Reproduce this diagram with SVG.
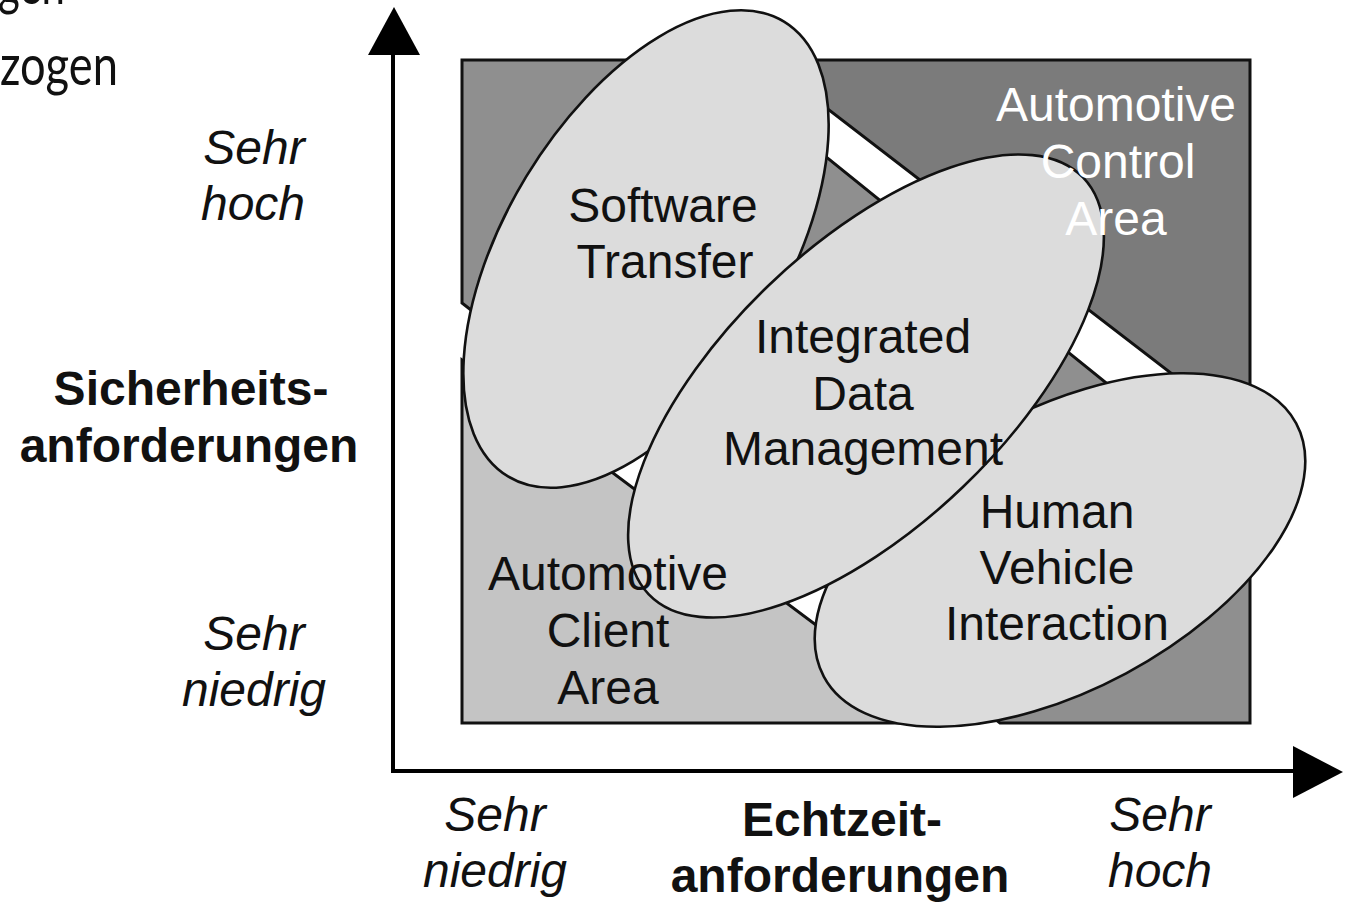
<svg xmlns="http://www.w3.org/2000/svg" width="1347" height="902" viewBox="0 0 1347 902">
<style>
.reg{stroke:#111;stroke-width:3;stroke-linejoin:miter}
.ell{fill:#dcdcdc;stroke:#111;stroke-width:2.6}
.t{font-family:'Liberation Sans',Arial,Helvetica,sans-serif;font-size:48px;fill:#111;text-anchor:middle}
.it{font-style:italic}
.b{font-weight:bold}
.w{fill:#ffffff}
.ax{stroke:#000;stroke-width:4;fill:none}
.ah{fill:#000}
.slide{font-family:Lato,'Open Sans',sans-serif;font-size:56px;fill:#111}
</style>
<rect width="1347" height="902" fill="#ffffff"/>
<g id="slide-text">
<text class="slide" x="-2" y="4" textLength="67" lengthAdjust="spacingAndGlyphs">gen</text>
<text class="slide" x="0" y="85" textLength="118" lengthAdjust="spacingAndGlyphs">zogen</text>
</g>
<g id="region-control">
<polygon class="reg" fill="#7b7b7b" points="764,60 1250,60 1250,434"/>
</g>
<g id="region-middle">
<polygon class="reg" fill="#8f8f8f" points="462,60 706,60 1250,499 1250,723 1000,723 462,303"/>
</g>
<g id="region-client">
<polygon class="reg" fill="#c4c4c4" points="462,360 462,723 947,723"/>
</g>
<g id="node-software-transfer">
<ellipse class="ell" cx="646" cy="249" rx="266" ry="140" transform="rotate(-58.75 646 249)"/>
<text class="t" x="663" y="222">Software</text>
<text class="t" x="665" y="278">Transfer</text>
</g>
<g id="node-human-vehicle-interaction">
<ellipse class="ell" cx="1060" cy="550" rx="268" ry="140" transform="rotate(-28.2 1060 550)"/>
<text class="t" x="1057" y="528">Human</text>
<text class="t" x="1057" y="584">Vehicle</text>
<text class="t" x="1057" y="640">Interaction</text>
</g>
<g id="node-integrated-data-management">
<ellipse class="ell" cx="866" cy="386" rx="301" ry="140" transform="rotate(-43.8 866 386)"/>
<text class="t" x="863" y="353">Integrated</text>
<text class="t" x="863" y="410">Data</text>
<text class="t" x="863" y="465">Management</text>
</g>
<g id="region-labels">
<text class="t w" x="1116" y="121">Automotive</text>
<text class="t w" x="1118" y="178">Control</text>
<text class="t w" x="1116" y="235">Area</text>
<text class="t" x="608" y="590">Automotive</text>
<text class="t" x="608" y="647">Client</text>
<text class="t" x="608" y="704">Area</text>
</g>
<g id="connectors">
<line class="ax" x1="393" y1="773" x2="393" y2="52"/>
<polygon class="ah" points="394,7 420,55 368,55"/>
<line class="ax" x1="391" y1="771" x2="1296" y2="771"/>
<polygon class="ah" points="1343,772 1293,746 1293,798"/>
</g>
<g id="axis-labels">
<text class="t it" x="254" y="164">Sehr</text>
<text class="t it" x="253" y="220">hoch</text>
<text class="t b" x="191" y="405">Sicherheits-</text>
<text class="t b" x="189" y="462">anforderungen</text>
<text class="t it" x="254" y="650">Sehr</text>
<text class="t it" x="254" y="706">niedrig</text>
<text class="t it" x="495" y="831">Sehr</text>
<text class="t it" x="495" y="887">niedrig</text>
<text class="t b" x="842" y="836">Echtzeit-</text>
<text class="t b" x="840" y="892">anforderungen</text>
<text class="t it" x="1160" y="831">Sehr</text>
<text class="t it" x="1160" y="887">hoch</text>
</g>
</svg>
